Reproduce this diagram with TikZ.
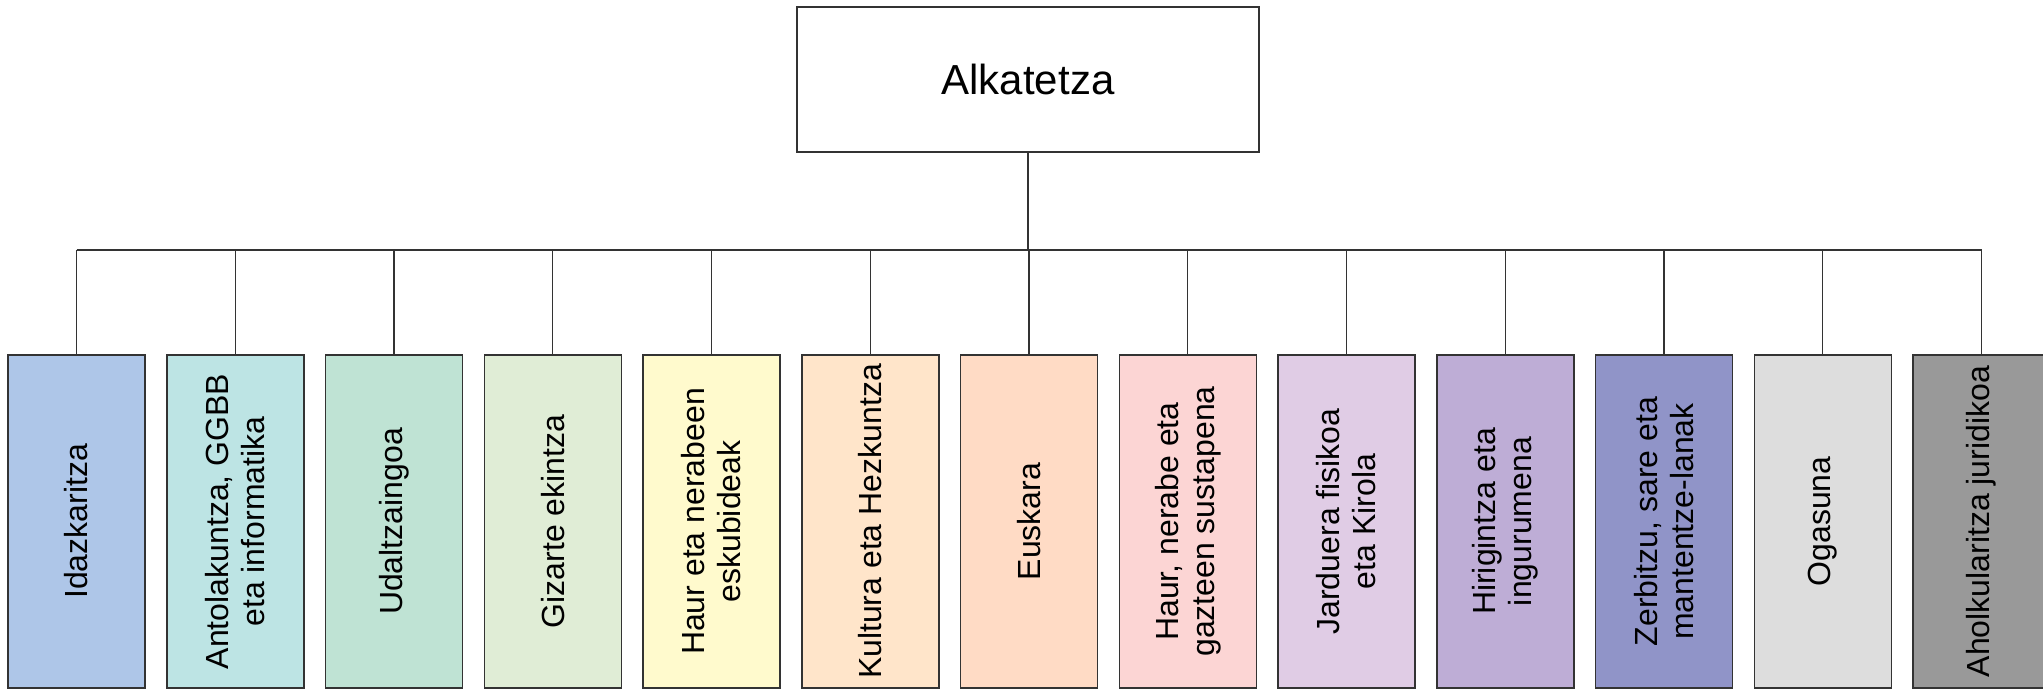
\documentclass[tikz,border=0pt]{standalone}
\usepackage{fontspec}
\setmainfont{Liberation Sans}
\definecolor{c1}{HTML}{AEC6E8}
\definecolor{c2}{HTML}{BDE4E4}
\definecolor{c3}{HTML}{BFE3D4}
\definecolor{c4}{HTML}{E0EDD6}
\definecolor{c5}{HTML}{FFFACD}
\definecolor{c6}{HTML}{FFE5CA}
\definecolor{c7}{HTML}{FFDBC5}
\definecolor{c8}{HTML}{FCD5D4}
\definecolor{c9}{HTML}{E0CCE5}
\definecolor{c10}{HTML}{BEADD6}
\definecolor{c11}{HTML}{9094C8}
\definecolor{c12}{HTML}{DDDDDD}
\definecolor{c13}{HTML}{999999}
\definecolor{edge}{HTML}{333333}
\tikzset{
  topbox/.style={draw=edge, line width=1.3pt, fill=white, minimum width=462pt, minimum height=145pt, inner sep=0pt, font=\fontsize{42}{48}\selectfont},
  unitbox/.style={draw=edge, line width=1.5pt, rotate=90, minimum width=333pt, minimum height=137pt, inner sep=0pt, align=center, font=\fontsize{32}{36}\selectfont},
  conn/.style={draw=edge, line width=1.3pt}
}
\begin{document}
\begin{tikzpicture}[x=1pt,y=-1pt]
\useasboundingbox (0,0) rectangle (2043,689);
\node[topbox] (top) at (1028,79.5) {Alkatetza};
\coordinate (bus) at (0,250);
\node[unitbox, fill=c1] (b1) at (76.5,521.5) {Idazkaritza};
\node[unitbox, fill=c2] (b2) at (235.25,521.5) {Antolakuntza, GGBB\\eta informatika};
\node[unitbox, fill=c3] (b3) at (394,521.5) {Udaltzaingoa};
\node[unitbox, fill=c4] (b4) at (552.75,521.5) {Gizarte ekintza};
\node[unitbox, fill=c5] (b5) at (711.5,521.5) {Haur eta nerabeen\\eskubideak};
\node[unitbox, fill=c6] (b6) at (870.25,521.5) {Kultura eta Hezkuntza};
\node[unitbox, fill=c7] (b7) at (1029,521.5) {Euskara};
\node[unitbox, fill=c8] (b8) at (1187.75,521.5) {Haur, nerabe eta\\gazteen sustapena};
\node[unitbox, fill=c9] (b9) at (1346.5,521.5) {Jarduera fisikoa\\eta Kirola};
\node[unitbox, fill=c10] (b10) at (1505.25,521.5) {Hirigintza eta\\ingurumena};
\node[unitbox, fill=c11] (b11) at (1664,521.5) {Zerbitzu, sare eta\\mantentze-lanak};
\node[unitbox, fill=c12] (b12) at (1822.75,521.5) {Ogasuna};
\node[unitbox, fill=c13] (b13) at (1981.5,521.5) {Aholkularitza juridikoa};
\draw[conn] (top.south) -- (top.south |- bus);
\draw[conn] (b1.east |- bus) -- (b13.east |- bus);
\foreach \i in {1,...,13} {
  \draw[conn] (b\i.east |- bus) -- (b\i.east);
}
\end{tikzpicture}
\end{document}
